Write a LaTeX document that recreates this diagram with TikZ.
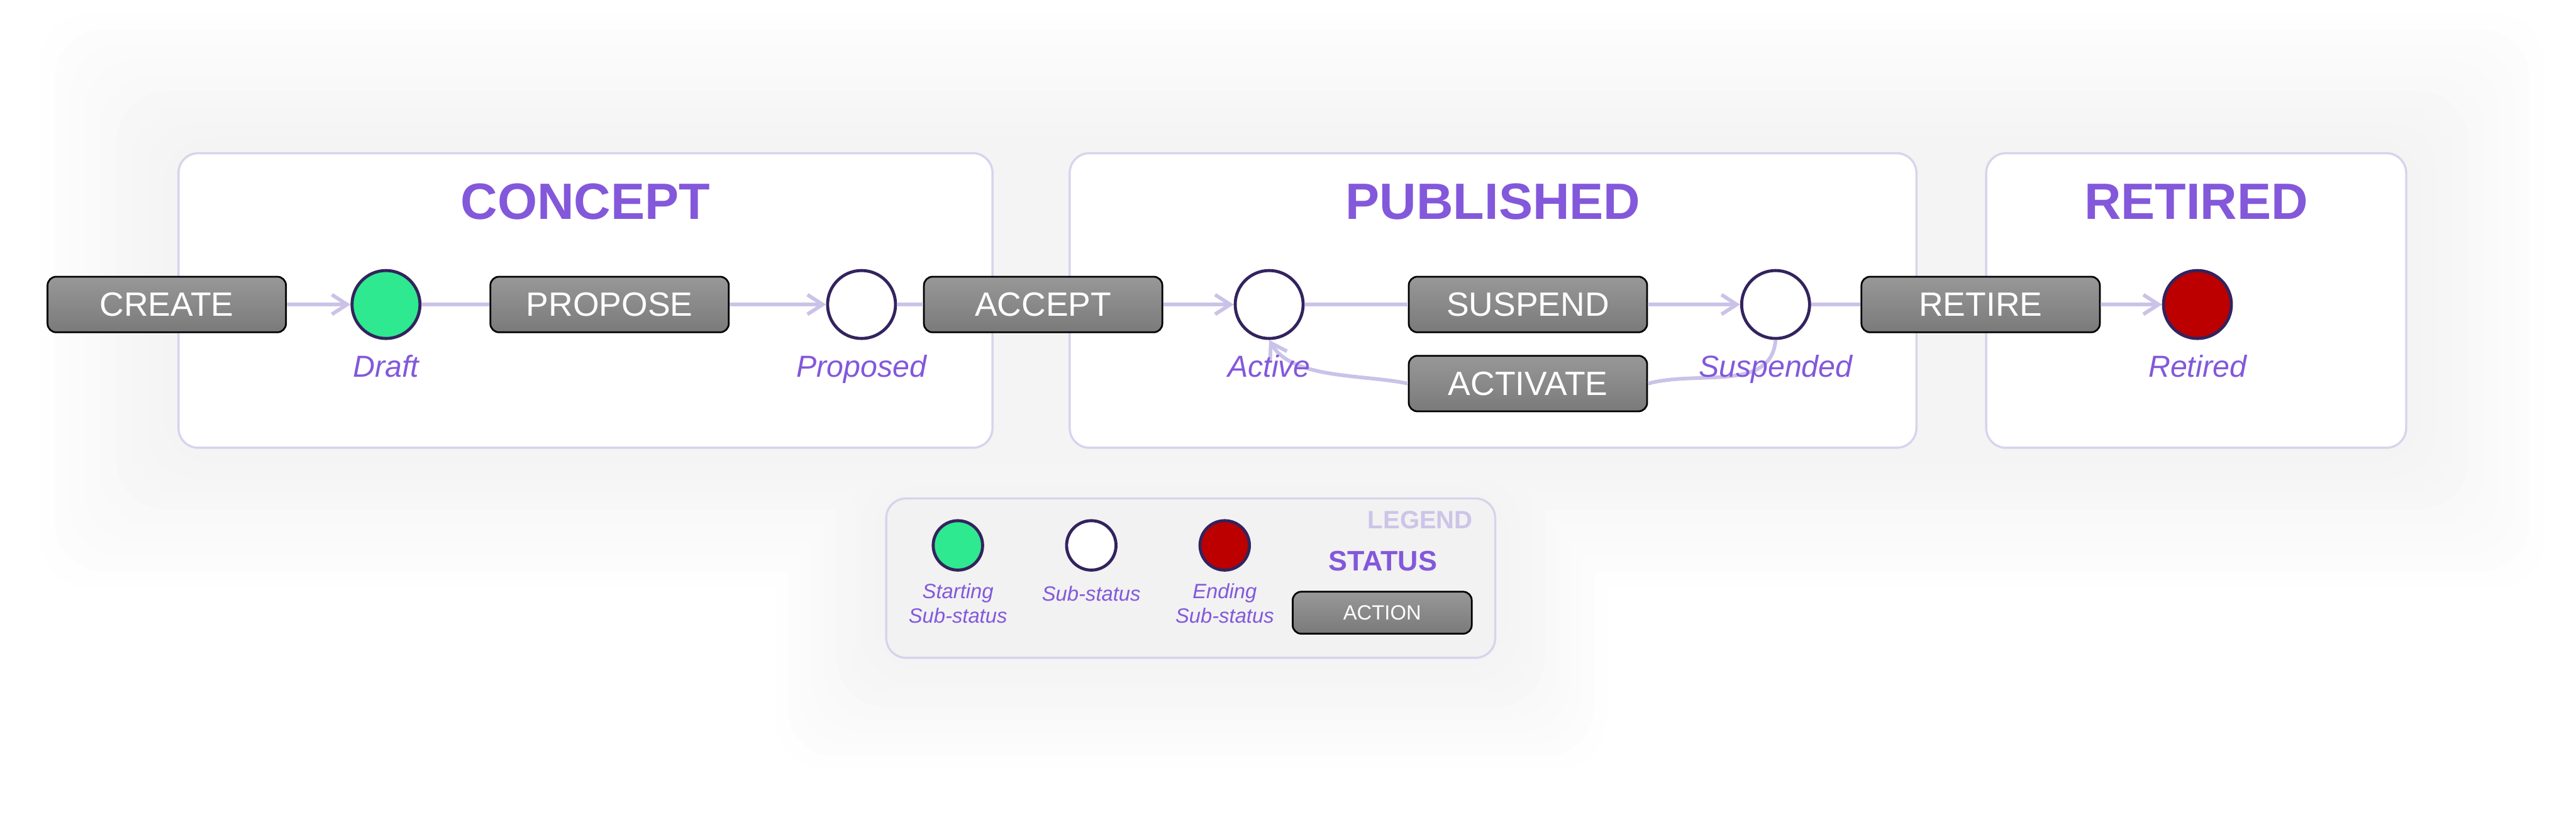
\documentclass[tikz,border=0pt]{standalone}
\usepackage{fontspec}
\setmainfont{Liberation Sans}
\usetikzlibrary{positioning,arrows.meta}

\definecolor{statuspurple}{HTML}{8358DB}
\definecolor{flowline}{HTML}{CBC2E8}
\definecolor{boxline}{HTML}{D9D3EC}
\definecolor{ringdark}{HTML}{33235E}
\definecolor{startgreen}{HTML}{2EE98F}
\definecolor{endred}{HTML}{BC0000}
\definecolor{legendfill}{HTML}{F2F2F2}
\definecolor{legendtitle}{HTML}{CDC4E8}
\definecolor{actiontop}{HTML}{989898}
\definecolor{actionbot}{HTML}{7A7A7A}

\tikzset{
  statusbox/.style={draw=boxline, line width=1pt, rounded corners=0.32cm, fill=white, inner sep=0pt},
  statustitle/.style={text=statuspurple, font=\fontsize{23.5}{28}\selectfont\bfseries, anchor=base},
  action/.style={draw=black, line width=0.8pt, rounded corners=0.14cm, top color=actiontop, bottom color=actionbot,
    text=white, minimum width=3.86cm, minimum height=0.9cm, inner sep=0pt, font=\fontsize{15.5}{18}\selectfont},
  substatus/.style={circle, draw=ringdark, line width=1.4pt, minimum size=1.1cm, inner sep=0pt, fill=white},
  sublabel/.style={text=statuspurple, font=\fontsize{14}{17}\selectfont\itshape, anchor=base},
  flow/.style={draw=flowline, line width=1.7pt},
  flowarrow/.style={flow, -{Straight Barb[length=7pt,width=9pt]}},
  keylabel/.style={text=statuspurple, font=\fontsize{9.5}{11.4}\selectfont\itshape, align=center},
}

\begin{document}
\begin{tikzpicture}
    % Background and soft halo
    \clip (0,0) rectangle (41.71,13.50);
    \fill[white] (0,0) rectangle (41.71,13.50);
    \foreach \m [count=\i] in {2.25,2.0,...,0.25} {
        \pgfmathsetmacro\shade{0.5*\i}
        \fill[black!\shade, rounded corners=0.8cm] ({2.89-\m},{6.25-\m}) rectangle ({38.96+\m},{11.02+\m});
        \fill[black!\shade, rounded corners=0.8cm] ({14.35-0.8*\m},{2.85-0.8*\m}) rectangle ({24.21+0.8*\m},{5.43+0.8*\m});
    }

    % Status boxes
    \node[statusbox, minimum width=13.18cm, minimum height=4.77cm] (concept) at (9.48,8.635) {};
    \node[statusbox, minimum width=13.71cm, minimum height=4.77cm] (published) at (24.175,8.635) {};
    \node[statusbox, minimum width=6.80cm, minimum height=4.77cm] (retiredbox) at (35.56,8.635) {};
    \node[statustitle] (conceptTitle) at (9.48,9.95) {CONCEPT};
    \node[statustitle] (publishedTitle) at (24.175,9.95) {PUBLISHED};
    \node[statustitle] (retiredTitle) at (35.56,9.95) {RETIRED};

    % Actions
    \node[action] (create) at (2.70,8.57) {CREATE};
    \node[action] (propose) at (9.87,8.57) {PROPOSE};
    \node[action] (accept) at (16.89,8.57) {ACCEPT};
    \node[action] (suspend) at (24.74,8.57) {SUSPEND};
    \node[action] (activate) at (24.74,7.29) {ACTIVATE};
    \node[action] (retire) at (32.07,8.57) {RETIRE};

    % Sub-statuses
    \node[substatus, fill=startgreen] (draft) at (6.25,8.57) {};
    \node[substatus] (proposed) at (13.95,8.57) {};
    \node[substatus] (active) at (20.55,8.57) {};
    \node[substatus] (suspended) at (28.75,8.57) {};
    \node[substatus, fill=endred] (retired) at (35.58,8.57) {};

    % Transitions
    \draw[flowarrow] (create) -- (draft);
    \draw[flow] (draft) -- (propose);
    \draw[flowarrow] (propose) -- (proposed);
    \draw[flow] (proposed) -- (accept);
    \draw[flowarrow] (accept) -- (active);
    \draw[flow] (active) -- (suspend);
    \draw[flowarrow] (suspend) -- (suspended);
    \draw[flow] (suspended) -- (retire);
    \draw[flowarrow] (retire) -- (retired);
    \draw[flow] (suspended.south) to[out=-95, in=15] (activate.east);
    \draw[flowarrow] (activate.west) to[out=168, in=-60, looseness=0.8] (active.south);

    % Sub-status names
    \node[sublabel] (draftLabel) at (6.25,7.40) {Draft};
    \node[sublabel] (proposedLabel) at (13.95,7.40) {Proposed};
    \node[sublabel] (activeLabel) at (20.55,7.40) {Active};
    \node[sublabel] (suspendedLabel) at (28.75,7.40) {Suspended};
    \node[sublabel] (retiredLabel) at (35.58,7.40) {Retired};

    % Legend
    \node[statusbox, fill=legendfill, minimum width=9.86cm, minimum height=2.58cm] (legend) at (19.28,4.14) {};
    \node[text=legendtitle, font=\fontsize{11.6}{14}\selectfont\bfseries, anchor=base east] (legendTitle) at (23.97,4.94) {LEGEND};
    \node[substatus, fill=startgreen, minimum size=0.8cm] (keyStart) at (15.51,4.67) {};
    \node[substatus, minimum size=0.8cm] (keySub) at (17.67,4.67) {};
    \node[substatus, fill=endred, minimum size=0.8cm] (keyEnd) at (19.83,4.67) {};
    \node[keylabel] (keyStartLabel) at (15.51,3.73) {Starting\\Sub-status};
    \node[keylabel] (keySubLabel) at (17.67,3.89) {Sub-status};
    \node[keylabel] (keyEndLabel) at (19.83,3.73) {Ending\\Sub-status};
    \node[text=statuspurple, font=\fontsize{13}{16}\selectfont\bfseries, anchor=base] (keyStatus) at (22.39,4.26) {STATUS};
    \node[action, minimum width=2.90cm, minimum height=0.68cm, font=\fontsize{9.5}{11.4}\selectfont] (keyAction) at (22.38,3.58) {ACTION};
\end{tikzpicture}
\end{document}
